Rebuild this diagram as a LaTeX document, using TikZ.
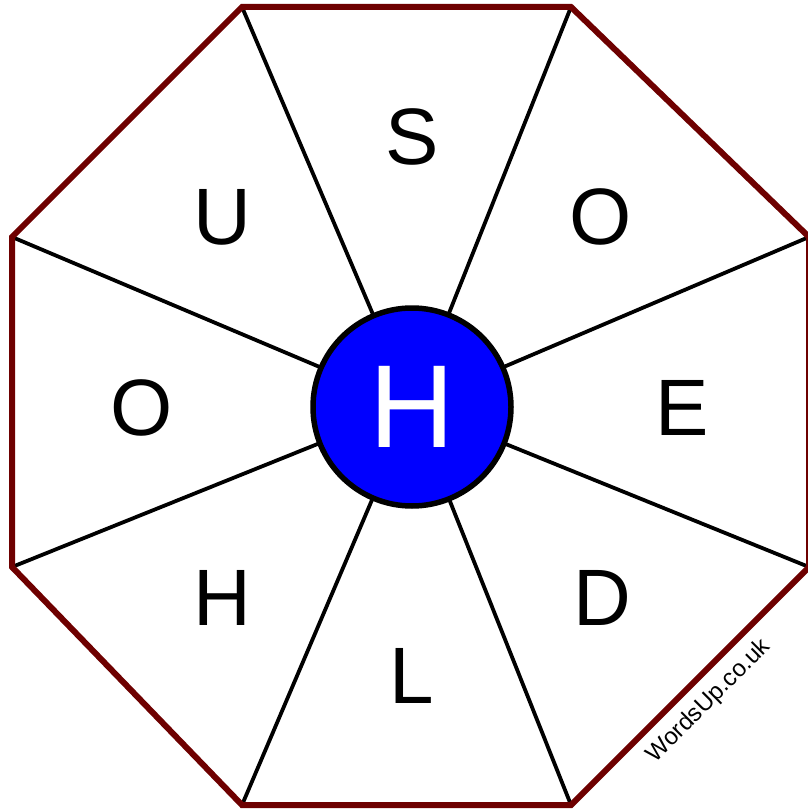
\documentclass[tikz,border=0pt]{standalone}
\usepackage{fontspec}
\setmainfont{Liberation Sans}
\definecolor{rim}{RGB}{110,0,0}
\definecolor{hub}{RGB}{0,0,255}
\begin{document}
\begin{tikzpicture}[x=1pt,y=-1pt,
  spoke/.style={line width=3.8pt,black},
  rimline/.style={line width=6pt,rim,line join=miter},
  letter/.style={font=\fontsize{80}{80}\selectfont,inner sep=0pt,anchor=center},
  hubnode/.style={circle,draw=black,line width=5.5pt,fill=hub,minimum size=198pt,inner sep=0pt,text=white,font=\fontsize{118}{118}\selectfont}]
\useasboundingbox (0,0) rectangle (807,810);
\coordinate (c) at (412,406);
\coordinate (v1) at (242,7);
\coordinate (v2) at (571,7);
\coordinate (v3) at (809,237);
\coordinate (v4) at (809,567);
\coordinate (v5) at (571,805);
\coordinate (v6) at (242,805);
\coordinate (v7) at (12,567);
\coordinate (v8) at (12,237);
\foreach \i in {1,...,8} \draw[spoke] (c) -- (v\i);
\draw[rimline] (v1) -- (v2) -- (v3) -- (v4) -- (v5) -- (v6) -- (v7) -- (v8) -- cycle;
\node[hubnode] (h) at (412,407) {H};
\node[letter] (s) at (412,137) {S};
\node[letter] (o1) at (601,217) {O};
\node[letter] (e) at (682,408) {E};
\node[letter] (d) at (602,598) {D};
\node[letter] (l) at (412,676) {L};
\node[letter] (h2) at (222,598) {H};
\node[letter] (o2) at (142,408) {O};
\node[letter] (u) at (222,217) {U};
\node[rotate=45,font=\fontsize{24}{24}\selectfont,inner sep=0pt] (w) at (709,701) {WordsUp.co.uk};
\end{tikzpicture}
\end{document}
